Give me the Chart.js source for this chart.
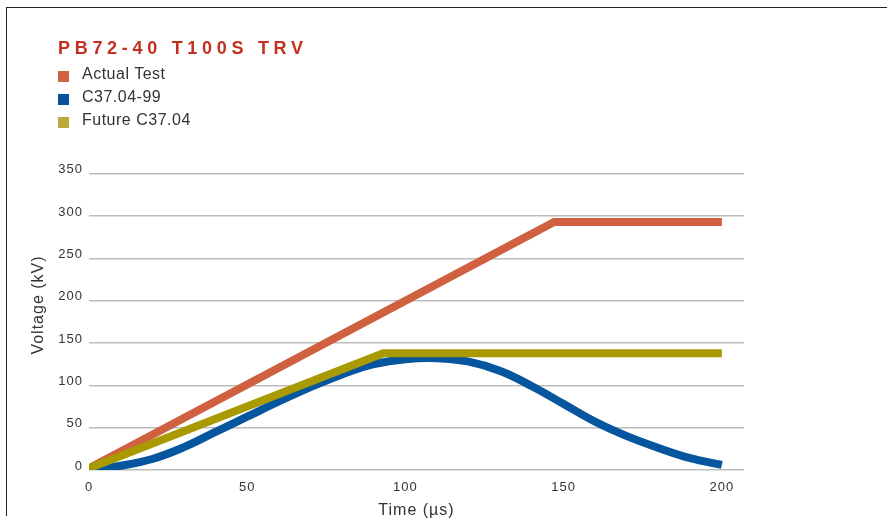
<!DOCTYPE html>
<html>
<head>
<meta charset="utf-8">
<title>PB72-40 T100S TRV</title>
<script src="https://cdn.jsdelivr.net/npm/chart.js@4/dist/chart.umd.min.js"></script>
<style>
  html, body { margin: 0; padding: 0; background: #fff; }
  #wrap { position: relative; width: 887px; height: 519px; overflow: hidden; }
  #frame { position: absolute; left: 6px; top: 7px; width: 881px; height: 509px;
           border-top: 1.5px solid #222; border-left: 1.5px solid #222; box-sizing: border-box; }
  #myChart { position: absolute; left: 0; top: 0; }
  #chartTitle { position: absolute; left: 58px; top: 38px; height: 22px; line-height: 22px;
                font: bold 18px "Liberation Sans", Arial, sans-serif; letter-spacing: 4.7px;
                color: #c4301f; white-space: nowrap; }
  .legend-row { position: absolute; left: 58px; height: 22px; line-height: 22px; white-space: nowrap;
                font: 16px "Liberation Sans", Arial, sans-serif;
                letter-spacing: 0.5px; color: #333; }
  .legend-row span.box { position: absolute; left: 0; top: 5.5px; width: 11px; height: 11px; }
  .legend-row span.txt { position: absolute; left: 24px; top: 0; }
</style>
</head>
<body>
<div id="wrap">
  <div id="frame"></div>
  <canvas id="myChart" width="887" height="519"></canvas>
  <div id="chartTitle">PB72-40 T100S TRV</div>
  <div id="legend"></div>
</div>
<script>
/* TRV 차트 데이터 */
const seriesNames = ['Actual Test', 'C37.04-99', 'Future C37.04'];
const lineColors = ['#cf6140', '#06559f', '#a89a00'];
const boxColors = ['#d06442', '#0a519c', '#bba940'];

// Actual Test
const actualTime = [0, 147, 200];
const actualVolt = [2, 293, 293];

// C37.04-99
const c3704Time = [0, 10, 20, 30, 40, 50, 60, 70, 80, 90, 100, 110, 120, 130, 140, 150, 160, 170, 180, 190, 200];
const c3704Volt = [0, 5, 13, 27, 45, 63, 81, 98, 113, 125, 131, 132, 128, 117, 99, 78, 57, 40, 26, 14, 6];

// Future C37.04
const futureTime = [0, 93, 200];
const futureVolt = [2, 138, 138];

const xTicksMax = 200;
const yTicksMax = 350;

function toPoints(xs, ys) {
    let pts = [];
    for (let i = 0; i < xs.length; i++) {
        pts.push({ x: xs[i], y: ys[i] });
    }
    return pts;
}

// 범례 (HTML)
let legendBox = document.getElementById('legend');
for (let i = 0; i < seriesNames.length; i++) {
    let row = document.createElement('div');
    row.className = 'legend-row';
    row.style.top = (65 + i * 23) + 'px';
    row.innerHTML = '<span class="box" style="background:' + boxColors[i] + '"></span>' +
                    '<span class="txt">' + seriesNames[i] + '</span>';
    legendBox.appendChild(row);
}

const sans = '"Liberation Sans", Arial, sans-serif';

// 캔버스 글자 간격
const spacingPlugin = {
    id: 'spacing',
    beforeLayout(chart) { chart.ctx.letterSpacing = '1px'; },
    beforeDraw(chart) { chart.ctx.letterSpacing = '1px'; }
};

let ctx = document.getElementById('myChart').getContext('2d');

let myChart = new Chart(ctx, {
    type: 'line',
    data: {
        datasets: [{
            label: seriesNames[0],
            data: toPoints(actualTime, actualVolt),
            borderColor: lineColors[0],
            borderWidth: 8,
            pointRadius: 0,
            tension: 0,
            order: 1
        }, {
            label: seriesNames[1],
            data: toPoints(c3704Time, c3704Volt),
            borderColor: lineColors[1],
            borderWidth: 8,
            pointRadius: 0,
            tension: 0.4,
            order: 2
        }, {
            label: seriesNames[2],
            data: toPoints(futureTime, futureVolt),
            borderColor: lineColors[2],
            borderWidth: 8,
            pointRadius: 0,
            tension: 0,
            order: 0
        }]
    },
    options: {
        responsive: false,
        animation: false,
        devicePixelRatio: 1,
        layout: {
            padding: { top: 140, right: 143, left: 0, bottom: 0 }
        },
        plugins: {
            legend: { display: false },
            title: { display: false },
            tooltip: { enabled: false }
        },
        scales: {
            x: {
                type: 'linear',
                min: 0,
                max: 207,
                afterBuildTicks: function (scale) {
                    scale.ticks = scale.ticks.filter(function (t) { return t.value <= xTicksMax; });
                },
                afterFit: function (scale) { scale.height = 49; },
                ticks: {
                    stepSize: 50,
                    includeBounds: false,
                    padding: 10,
                    maxRotation: 0,
                    color: '#333',
                    font: { family: sans, size: 13 }
                },
                grid: { display: false, drawTicks: false, tickLength: 0 },
                border: { display: false },
                title: {
                    display: true,
                    text: 'Time (µs)',
                    color: '#333',
                    padding: { top: 0, bottom: 0 },
                    font: { family: sans, size: 16, lineHeight: 1 }
                }
            },
            y: {
                min: 0,
                max: 390,
                afterBuildTicks: function (scale) {
                    scale.ticks = scale.ticks.filter(function (t) { return t.value <= yTicksMax; });
                },
                afterFit: function (scale) { scale.width = 89; },
                ticks: {
                    stepSize: 50,
                    includeBounds: false,
                    padding: 6,
                    labelOffset: -4,
                    color: '#333',
                    font: { family: sans, size: 13 }
                },
                grid: { color: '#bdbdbd', lineWidth: 1.5, drawTicks: false, tickLength: 0 },
                border: { display: false },
                title: {
                    display: true,
                    text: 'Voltage (kV)',
                    color: '#333',
                    padding: { top: 29, bottom: 0 },
                    font: { family: sans, size: 16 }
                }
            }
        }
    },
    plugins: [spacingPlugin]
});
</script>
</body>
</html>
